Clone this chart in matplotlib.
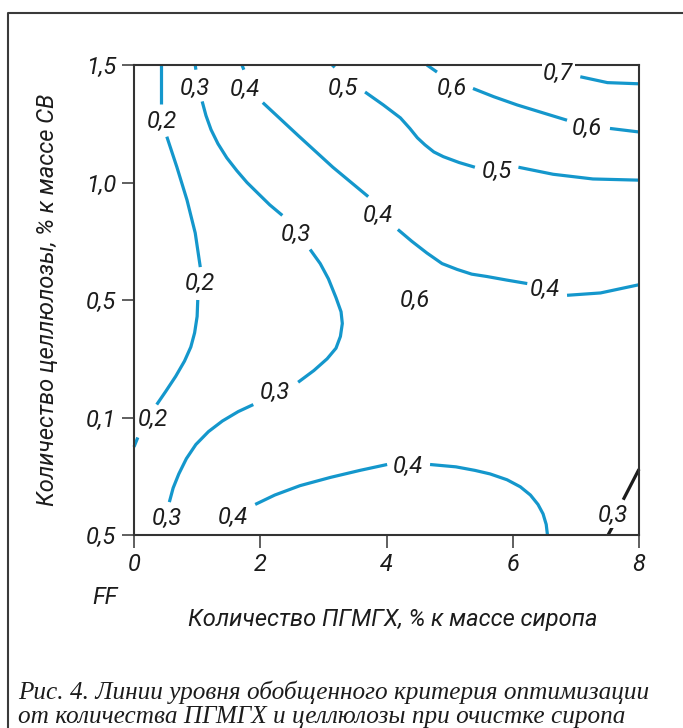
import matplotlib
matplotlib.use('Agg')
import matplotlib.pyplot as plt
from matplotlib.lines import Line2D

# шрифты: узкий гротеск для осей, курсивная антиква для подписи
SANS = ['Roboto', 'DejaVu Sans']
SERIF = ['Liberation Serif', 'DejaVu Serif']

# ось Y идет по условным делениям 0..4, подписи взяты как есть
y_ticks = [0, 1, 2, 3, 4]
y_labels = ['0,5', '0,1', '0,5', '1,0', '1,5']
x_ticks = [0, 2, 4, 6, 8]
x_labels = ['0', '2', '4', '6', '8']

# изолинии: каждая ветка — список точек (x, y), разрывы под подписи
iso_02_a = [(0.43, 4.0), (0.43, 3.67)]
iso_02_b = [(0.52, 3.39), (0.68, 3.13), (0.84, 2.85), (0.97, 2.57), (1.05, 2.28)]
iso_02_c = [(1.01, 2.0), (1.00, 1.86), (0.96, 1.72), (0.90, 1.60), (0.80, 1.48),
            (0.66, 1.35), (0.50, 1.22), (0.36, 1.11)]
iso_02_d = [(0.06, 0.83), (0.0, 0.75)]

iso_03_a = [(0.97, 4.0), (0.98, 3.96)]
iso_03_b = [(1.08, 3.69), (1.14, 3.57), (1.22, 3.45), (1.33, 3.33), (1.47, 3.21),
            (1.63, 3.10), (1.79, 3.0), (1.96, 2.91), (2.15, 2.81), (2.35, 2.72)]
iso_03_c = [(2.79, 2.43), (2.95, 2.31), (3.08, 2.18), (3.20, 2.02), (3.28, 1.90),
            (3.30, 1.80), (3.27, 1.69), (3.20, 1.59), (3.06, 1.50), (2.85, 1.40), (2.60, 1.30)]
iso_03_d = [(1.89, 1.11), (1.65, 1.05), (1.40, 0.97), (1.18, 0.88), (0.98, 0.77),
            (0.83, 0.65), (0.71, 0.52), (0.62, 0.40), (0.56, 0.28)]

iso_04_a = [(1.71, 4.0), (1.74, 3.96)]
iso_04_b = [(2.04, 3.68), (2.60, 3.40), (3.15, 3.13), (3.71, 2.88)]
iso_04_c = [(4.18, 2.60), (4.40, 2.50), (4.64, 2.40), (4.88, 2.31), (5.12, 2.26),
            (5.35, 2.22), (5.59, 2.20), (5.90, 2.17), (6.23, 2.14)]
iso_04_d = [(6.86, 2.04), (7.39, 2.06), (8.0, 2.13)]

iso_05_a = [(3.14, 4.0), (3.18, 3.98)]
iso_05_b = [(3.66, 3.77), (3.95, 3.66), (4.22, 3.55), (4.37, 3.46), (4.49, 3.38),
            (4.61, 3.32), (4.75, 3.26), (4.90, 3.22), (5.15, 3.17), (5.40, 3.13)]
iso_05_c = [(6.09, 3.13), (6.64, 3.07), (7.27, 3.03), (8.0, 3.02)]

iso_06_a = [(4.64, 4.0), (4.80, 3.94)]
iso_06_b = [(5.37, 3.80), (5.70, 3.73), (6.07, 3.66), (6.86, 3.53)]
iso_06_c = [(7.54, 3.46), (8.0, 3.43)]

iso_07_a = [(7.07, 3.90), (7.50, 3.85), (8.0, 3.84)]

iso_04_low_a = [(1.92, 0.26), (2.23, 0.34), (2.63, 0.42), (3.11, 0.49), (3.58, 0.55), (4.01, 0.60)]
iso_04_low_b = [(4.69, 0.60), (5.10, 0.58), (5.40, 0.55), (5.64, 0.52), (5.91, 0.47),
                (6.12, 0.41), (6.28, 0.34), (6.40, 0.26), (6.48, 0.18), (6.53, 0.09), (6.55, 0.0)]

# черная изолиния 0,3 в правом нижнем углу
iso_03_dark_a = [(7.75, 0.30), (8.0, 0.56)]
iso_03_dark_b = [(7.51, 0.0), (7.58, 0.07)]

blue_lines = [iso_02_a, iso_02_b, iso_02_c, iso_02_d,
              iso_03_a, iso_03_b, iso_03_c, iso_03_d,
              iso_04_a, iso_04_b, iso_04_c, iso_04_d,
              iso_05_a, iso_05_b, iso_05_c,
              iso_06_a, iso_06_b, iso_06_c,
              iso_07_a, iso_04_low_a, iso_04_low_b]
dark_lines = [iso_03_dark_a, iso_03_dark_b]

# подписи уровней: (x, y, текст)
level_labels = [
    (0.44, 3.52, '0,2'), (1.05, 2.14, '0,2'), (0.30, 0.98, '0,2'),
    (0.97, 3.80, '0,3'), (2.57, 2.56, '0,3'), (2.23, 1.21, '0,3'), (0.52, 0.14, '0,3'),
    (1.76, 3.79, '0,4'), (3.87, 2.72, '0,4'), (6.51, 2.09, '0,4'),
    (3.31, 3.80, '0,5'), (5.75, 3.09, '0,5'),
    (5.04, 3.80, '0,6'), (7.18, 3.46, '0,6'),
    (6.72, 3.93, '0,7'),
    (4.45, 2.00, '0,6'),
    (1.57, 0.15, '0,4'), (4.34, 0.58, '0,4'),
    (7.58, 0.17, '0,3'),
]

LINE_BLUE = '#1497cc'
INK = '#1c1c1c'

fig = plt.figure(figsize=(6.83, 7.28), dpi=100)
ax = fig.add_axes([134 / 683, 1 - 535 / 728, 505 / 683, 470 / 728])

for seg in blue_lines:
    xs, ys = zip(*seg)
    ax.plot(xs, ys, color=LINE_BLUE, lw=2.3, solid_capstyle='butt',
            solid_joinstyle='round', clip_on=False)
for seg in dark_lines:
    xs, ys = zip(*seg)
    ax.plot(xs, ys, color=INK, lw=2.3, solid_capstyle='butt', clip_on=False)

for x, y, s in level_labels:
    ax.text(x, y, s, ha='center', va='center', fontsize=17, style='italic',
            family=SANS, color=INK, zorder=5,
            bbox=dict(boxstyle='square,pad=0.05', fc='white', ec='none'))

ax.set_xlim(0, 8)
ax.set_ylim(0, 4)
ax.set_xticks(x_ticks)
ax.set_xticklabels(x_labels)
ax.set_yticks(y_ticks)
ax.set_yticklabels(y_labels)
for lbl in ax.get_xticklabels() + ax.get_yticklabels():
    lbl.set_family(SANS)
    lbl.set_style('italic')
    lbl.set_fontsize(17)
    lbl.set_color(INK)
ax.tick_params(direction='out', length=9, width=1.2, color='#444444', pad=4)
for sp in ax.spines.values():
    sp.set_color('#333333')
    sp.set_linewidth(1.5)

ax.set_xlabel('Количество ПГМГХ, % к массе сиропа', family=SANS, style='italic',
              fontsize=17, color=INK)
ax.xaxis.set_label_coords(0.512, -0.155)
ax.set_ylabel('Количество целлюлозы, % к массе СВ', family=SANS, style='italic',
              fontsize=17, color=INK)
ax.yaxis.set_label_coords(-0.148, 0.5)

fig.text(105 / 683, 1 - 597 / 728, 'FF', family=SANS, style='italic', fontsize=17,
         color=INK, ha='center', va='center')

# подпись к рисунку
fig.text(18 / 683, 1 - 692 / 728,
         'Рис. 4. Линии уровня обобщенного критерия оптимизации',
         family=SERIF, style='italic', fontsize=18.2, color=INK, ha='left', va='center')
fig.text(18 / 683, 1 - 717 / 728,
         'от количества ПГМГХ и целлюлозы при очистке сиропа',
         family=SERIF, style='italic', fontsize=18.2, color=INK, ha='left', va='center')

# рамка вокруг рисунка
fig.add_artist(Line2D([8 / 683, 8 / 683, 1.0], [0.0, 1 - 13 / 728, 1 - 13 / 728],
                      transform=fig.transFigure, color='#3a3a3a', lw=1.5))

fig.savefig('out.png', dpi=100)
